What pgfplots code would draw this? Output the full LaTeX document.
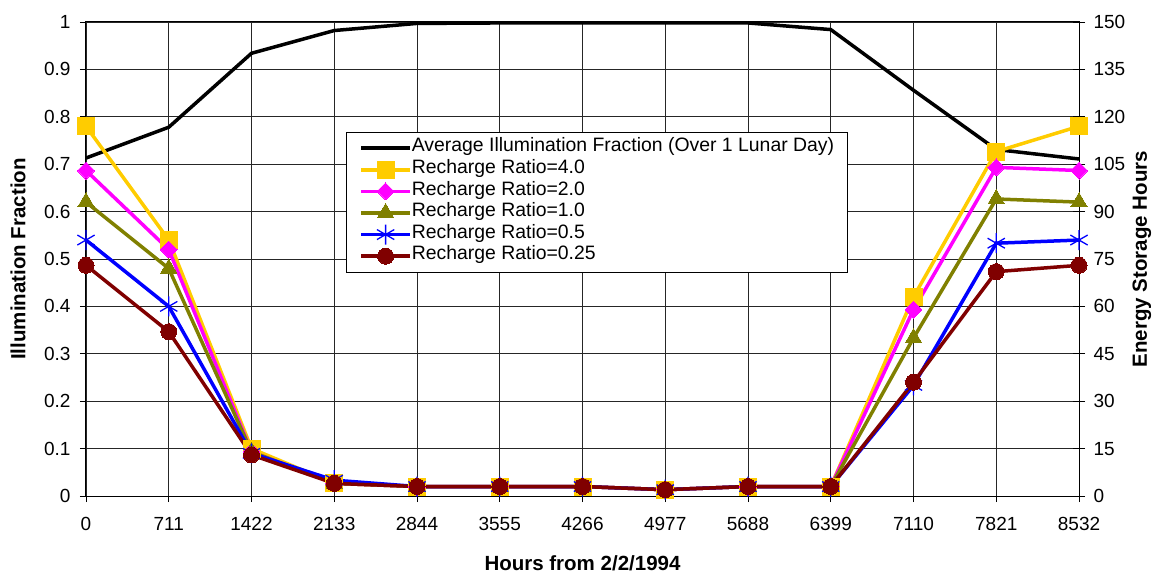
\documentclass[border=0pt]{standalone}
\usepackage{pgfplots}
\pgfplotsset{compat=1.18}
\usepackage{fontspec}
\setmainfont{Liberation Sans}

\definecolor{cYellow}{HTML}{FFCC00}
\definecolor{cMagenta}{HTML}{FF00FF}
\definecolor{cOlive}{HTML}{808000}
\definecolor{cBlue}{HTML}{0000FF}
\definecolor{cRed}{HTML}{800000}

\begin{document}
\begin{tikzpicture}
\pgfplotsset{
  common/.style={
    scale only axis,
    width=993pt, height=474pt,
    xmin=0, xmax=8532,
    clip=false,
    axis line style={black, line width=1pt},
    major tick length=6pt,
    tick style={black, line width=0.8pt},
    ticklabel style={font=\fontsize{19}{22}\selectfont},
    /pgf/number format/assume math mode=true,
    /pgf/number format/1000 sep={},
    scaled ticks=false,
    label style={font=\bfseries\fontsize{20.5}{24}\selectfont},
  },
}
\begin{axis}[common,
    name=ax,
    ymin=0, ymax=1,
    xtick={0,711,1422,2133,2844,3555,4266,4977,5688,6399,7110,7821,8532},
    ytick={0,0.1,...,1.0},
    yticklabel style={/pgf/number format/fixed},
    tick pos=left,
    tick align=outside,
    grid=major,
    grid style={black!85, line width=0.8pt},
    xlabel={Hours from 2/2/1994},
    ylabel={Illumination Fraction},
    xlabel style={at={(axis description cs:0.5,-0.141)}, anchor=center},
    ylabel style={at={(axis description cs:-0.0685,0.5)}, anchor=center},
    xticklabel style={yshift=-12pt},
    yticklabel style={xshift=-6pt},
]
% Average illumination fraction (left axis)
\addplot[black, line width=3.5pt] coordinates {
(0,0.713)(711,0.778)(1422,0.934)(2133,0.982)(2844,0.997)(3555,0.998)(4266,0.998)
(4977,0.998)(5688,0.998)(6399,0.984)(7110,0.856)(7821,0.731)(8532,0.711)
};
\end{axis}

\begin{axis}[common,
    axis x line=none,
    axis y line*=right,
    ymin=0, ymax=150,
    ytick={0,15,30,45,60,75,90,105,120,135,150},
    tick align=center,
    major tick length=12pt,
    yticklabel style={xshift=5pt},
    ylabel={Energy Storage Hours},
    ylabel style={at={(axis description cs:1.0634,0.5)}, anchor=center, rotate=0},
    legend style={
      at={(rel axis cs:0.2618,0.768)}, anchor=north west,
      draw=black, line width=0.8pt, fill=white,
      font=\fontsize{19.4}{22}\selectfont,
      inner xsep=13pt, inner ysep=5pt,
      row sep=0pt,
      nodes={inner sep=0pt, text height=14.5pt, text depth=7.1pt},
    },
    legend cell align=left,
    legend image code/.code={
      \draw[mark repeat=2, mark phase=2, #1]
        plot coordinates {(0pt,0pt) (24.5pt,0pt) (49pt,0pt)};
    },
]
\addlegendimage{black, line width=3.5pt}
\addlegendentry{Average Illumination Fraction (Over 1 Lunar Day)}

\addplot[cYellow, line width=3.5pt, mark=square*, mark size=8.5pt,
  mark options={solid, line width=0pt}] coordinates {
(0,117)(711,81)(1422,15)(2133,4)(2844,3)(3555,3)(4266,3)
(4977,2)(5688,3)(6399,3)(7110,63)(7821,109)(8532,117)
};
\addlegendentry{Recharge Ratio=4.0}

\addplot[cMagenta, line width=3.5pt, mark=square*, mark size=6pt,
  mark options={solid, rotate=45, line width=0pt}] coordinates {
(0,103)(711,78)(1422,14)(2133,4)(2844,3)(3555,3)(4266,3)
(4977,2)(5688,3)(6399,3)(7110,59)(7821,104)(8532,103)
};
\addlegendentry{Recharge Ratio=2.0}

\addplot[cOlive, line width=3.5pt, mark=triangle*, mark size=9.5pt,
  mark options={solid, line width=0pt}] coordinates {
(0,93)(711,72)(1422,14)(2133,4)(2844,3)(3555,3)(4266,3)
(4977,2)(5688,3)(6399,3)(7110,50)(7821,94)(8532,93)
};
\addlegendentry{Recharge Ratio=1.0}

\addplot[cBlue, line width=3.5pt, mark=asterisk, mark size=10pt,
  mark options={solid, line width=1.3pt}] coordinates {
(0,81)(711,60)(1422,13.5)(2133,5)(2844,3)(3555,3)(4266,3)
(4977,2)(5688,3)(6399,3)(7110,35)(7821,80)(8532,81)
};
\addlegendentry{Recharge Ratio=0.5}

\addplot[cRed, line width=3.5pt, mark=*, mark size=8pt,
  mark options={solid, line width=0pt}] coordinates {
(0,73)(711,52)(1422,13)(2133,4)(2844,3)(3555,3)(4266,3)
(4977,2)(5688,3)(6399,3)(7110,36)(7821,71)(8532,73)
};
\addlegendentry{Recharge Ratio=0.25}
\end{axis}

\pgfresetboundingbox
\path ([xshift=-86pt,yshift=-77pt]ax.south west) rectangle ([xshift=77pt,yshift=22pt]ax.north east);
\end{tikzpicture}
\end{document}
